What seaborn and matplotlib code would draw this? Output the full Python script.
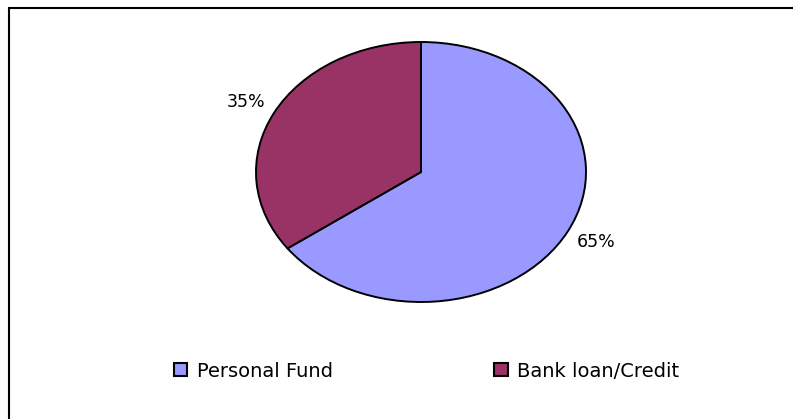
import matplotlib
matplotlib.use("Agg")
import matplotlib.pyplot as plt
from matplotlib.lines import Line2D
import seaborn as sns

categories = ["Personal Fund", "Bank loan/Credit"]
shares = [65, 35]
colors = ["#9999FF", "#993366"]

sns.set_theme(style="white")
plt.rcParams["font.family"] = ["DejaVu Sans"]
plt.rcParams["text.color"] = "black"

W, H, DPI = 793, 419, 100
fig = plt.figure(figsize=(W / DPI, H / DPI), dpi=DPI)
fig.patch.set_facecolor("white")

# chart-area border: only the left and top edges fall inside the image
bx, by = 8.5 / W, (H - 8) / H
fig.add_artist(Line2D([bx, bx, 1.05], [-0.05, by, by], transform=fig.transFigure,
                      color="black", linewidth=1.5, solid_joinstyle="miter"))

# pie axes spanning the elliptical plot area
cx, cy, rx, ry = 421, 172, 165, 130
ax = fig.add_axes([(cx - rx) / W, (H - cy - ry) / H, 2 * rx / W, 2 * ry / H])
wedges, texts, autotexts = ax.pie(
    shares, colors=colors, startangle=90, counterclock=False,
    autopct="%1.0f%%", pctdistance=1.19,
    wedgeprops=dict(edgecolor="black", linewidth=1.4),
    textprops=dict(fontsize=12.5, color="black"),
)
ax.set_aspect("auto")
ax.set_xlim(-1, 1)
ax.set_ylim(-1, 1)
ax.axis("off")
for w in wedges:
    w.set_clip_on(False)

leg = fig.legend(
    wedges, categories, loc="center left",
    bbox_to_anchor=(174 / W, (H - 371) / H), ncol=2, frameon=False,
    fontsize=14, handlelength=0.68, handleheight=0.68,
    handletextpad=0.5, columnspacing=8.3, borderaxespad=0, borderpad=0,
    labelcolor="black",
)
for h in leg.legend_handles:
    h.set_edgecolor("black")
    h.set_linewidth(1.5)

fig.savefig("out.png", dpi=DPI, facecolor="white")
